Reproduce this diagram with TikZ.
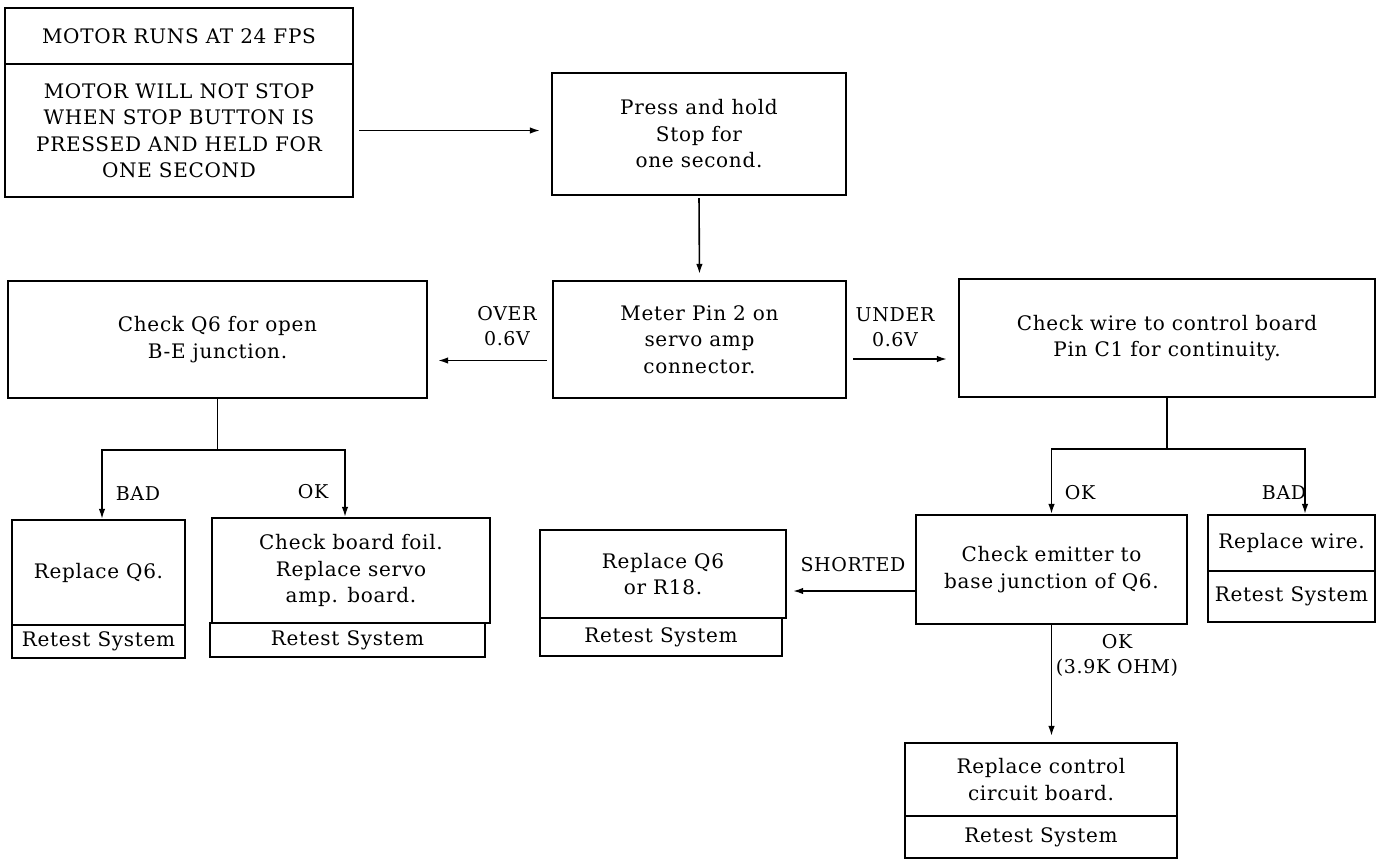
\documentclass[tikz,border=0pt]{standalone}
\usepackage{fontspec}
\setmainfont{DejaVu Serif}[LetterSpace=3.5]
\usetikzlibrary{arrows.meta}
\begin{document}
\begin{tikzpicture}[x=1pt,y=-1pt,
  box/.style={draw,line width=2.2pt,inner sep=0pt,align=center,font=\fontsize{20}{26.5}\selectfont},
  arr/.style={line width=1.6pt,-{Latex[length=10pt,width=6.5pt]}},
  ln/.style={line width=1.6pt},
  lbl/.style={inner sep=0pt,align=center,font=\fontsize{19}{25}\selectfont}]
\useasboundingbox[fill=white] (0,0) rectangle (1381,867);

% top
\node[box,minimum width=348pt,minimum height=56pt] (A1) at (179,36) {MOTOR RUNS AT 24 FPS};
\node[box,minimum width=348pt,minimum height=133pt] (A2) at (179,130.5) {MOTOR WILL NOT STOP\\WHEN STOP BUTTON IS\\PRESSED AND HELD FOR\\ONE SECOND};
\node[box,minimum width=294pt,minimum height=122pt] (B) at (699,134) {Press and hold\\Stop for\\one second.};

% middle row
\node[box,minimum width=293pt,minimum height=117pt] (C) at (699.5,339.5) {Meter Pin 2 on\\servo amp\\connector.};
\node[box,minimum width=419pt,minimum height=117pt] (D) at (217.5,339.5) {Check Q6 for open\\B-E junction.};
\node[box,minimum width=416pt,minimum height=118pt] (E) at (1167,338) {Check wire to control board\\Pin C1 for continuity.};

% lower left
\node[box,minimum width=173pt,minimum height=105pt] (F1) at (98.5,572.5) {Replace Q6.};
\node[box,minimum width=173pt,minimum height=33pt] (F2) at (98.5,641.5) {Retest System};
\node[box,minimum width=278pt,minimum height=105pt] (G1) at (351,570.5) {Check board foil.\\Replace servo\\amp. board.};
\node[box,minimum width=275pt,minimum height=34pt] (G2) at (347.5,640) {Retest System};

% lower right
\node[box,minimum width=246pt,minimum height=88pt] (H1) at (663,574) {Replace Q6\\or R18.};
\node[box,minimum width=242pt,minimum height=38pt] (H2) at (661,637) {Retest System};
\node[box,minimum width=271pt,minimum height=109pt] (I) at (1051.5,569.5) {Check emitter to\\base junction of Q6.};
\node[box,minimum width=167pt,minimum height=56pt] (J1) at (1291.5,543) {Replace wire.};
\node[box,minimum width=167pt,minimum height=51pt] (J2) at (1291.5,596.5) {Retest System};
\node[box,minimum width=272pt,minimum height=73pt] (K1) at (1041,779.5) {Replace control\\circuit board.};
\node[box,minimum width=272pt,minimum height=42pt] (K2) at (1041,837) {Retest System};

% labels
\node[lbl] (lover) at (507,326.5) {OVER\\0.6V};
\node[lbl] (lunder) at (895,327.5) {UNDER\\0.6V};
\node[lbl] (lbad1) at (138,494) {BAD};
\node[lbl] (lok1) at (313,492) {OK};
\node[lbl] (lok2) at (1080,493) {OK};
\node[lbl] (lbad2) at (1284,493) {BAD};
\node[lbl] (lshort) at (853,565) {SHORTED};
\node[lbl] (lok3) at (1117,655) {OK\\(3.9K OHM)};

% connectors
\draw[arr,shorten <=5pt,shorten >=11pt] (A2.east) -- (A2.east -| B.west);
\draw[arr,shorten <=2pt,shorten >=6pt] (B.south) -- (C.north);
\path (C.west) ++(0,21) coordinate (cw);
\path (C.east) ++(0,19.5) coordinate (ce);
\draw[arr,shorten <=5pt,shorten >=10pt] (cw) -- (cw -| D.east);
\draw[arr,shorten <=6pt,shorten >=11pt] (ce) -- (ce -| E.west);
\draw[ln] (D.south) -- ++(0,51) coordinate (dj);
\draw[arr] (dj) -| ([xshift=3.5pt]F1.north);
\draw[arr] (dj) -| ([xshift=-6pt]G1.north);
\draw[ln] (E.south) -- ++(0,51) coordinate (ej);
\draw[arr] (ej) -| (I.north);
\draw[arr] (ej) -| ([xshift=13.5pt]J1.north);
\path (I.west) ++(0,21.5) coordinate (iw);
\draw[arr,shorten >=6pt] (iw) -- (iw -| H1.east);
\draw[arr,shorten >=6pt] (I.south) -- (I.south |- K1.north);
\end{tikzpicture}
\end{document}
